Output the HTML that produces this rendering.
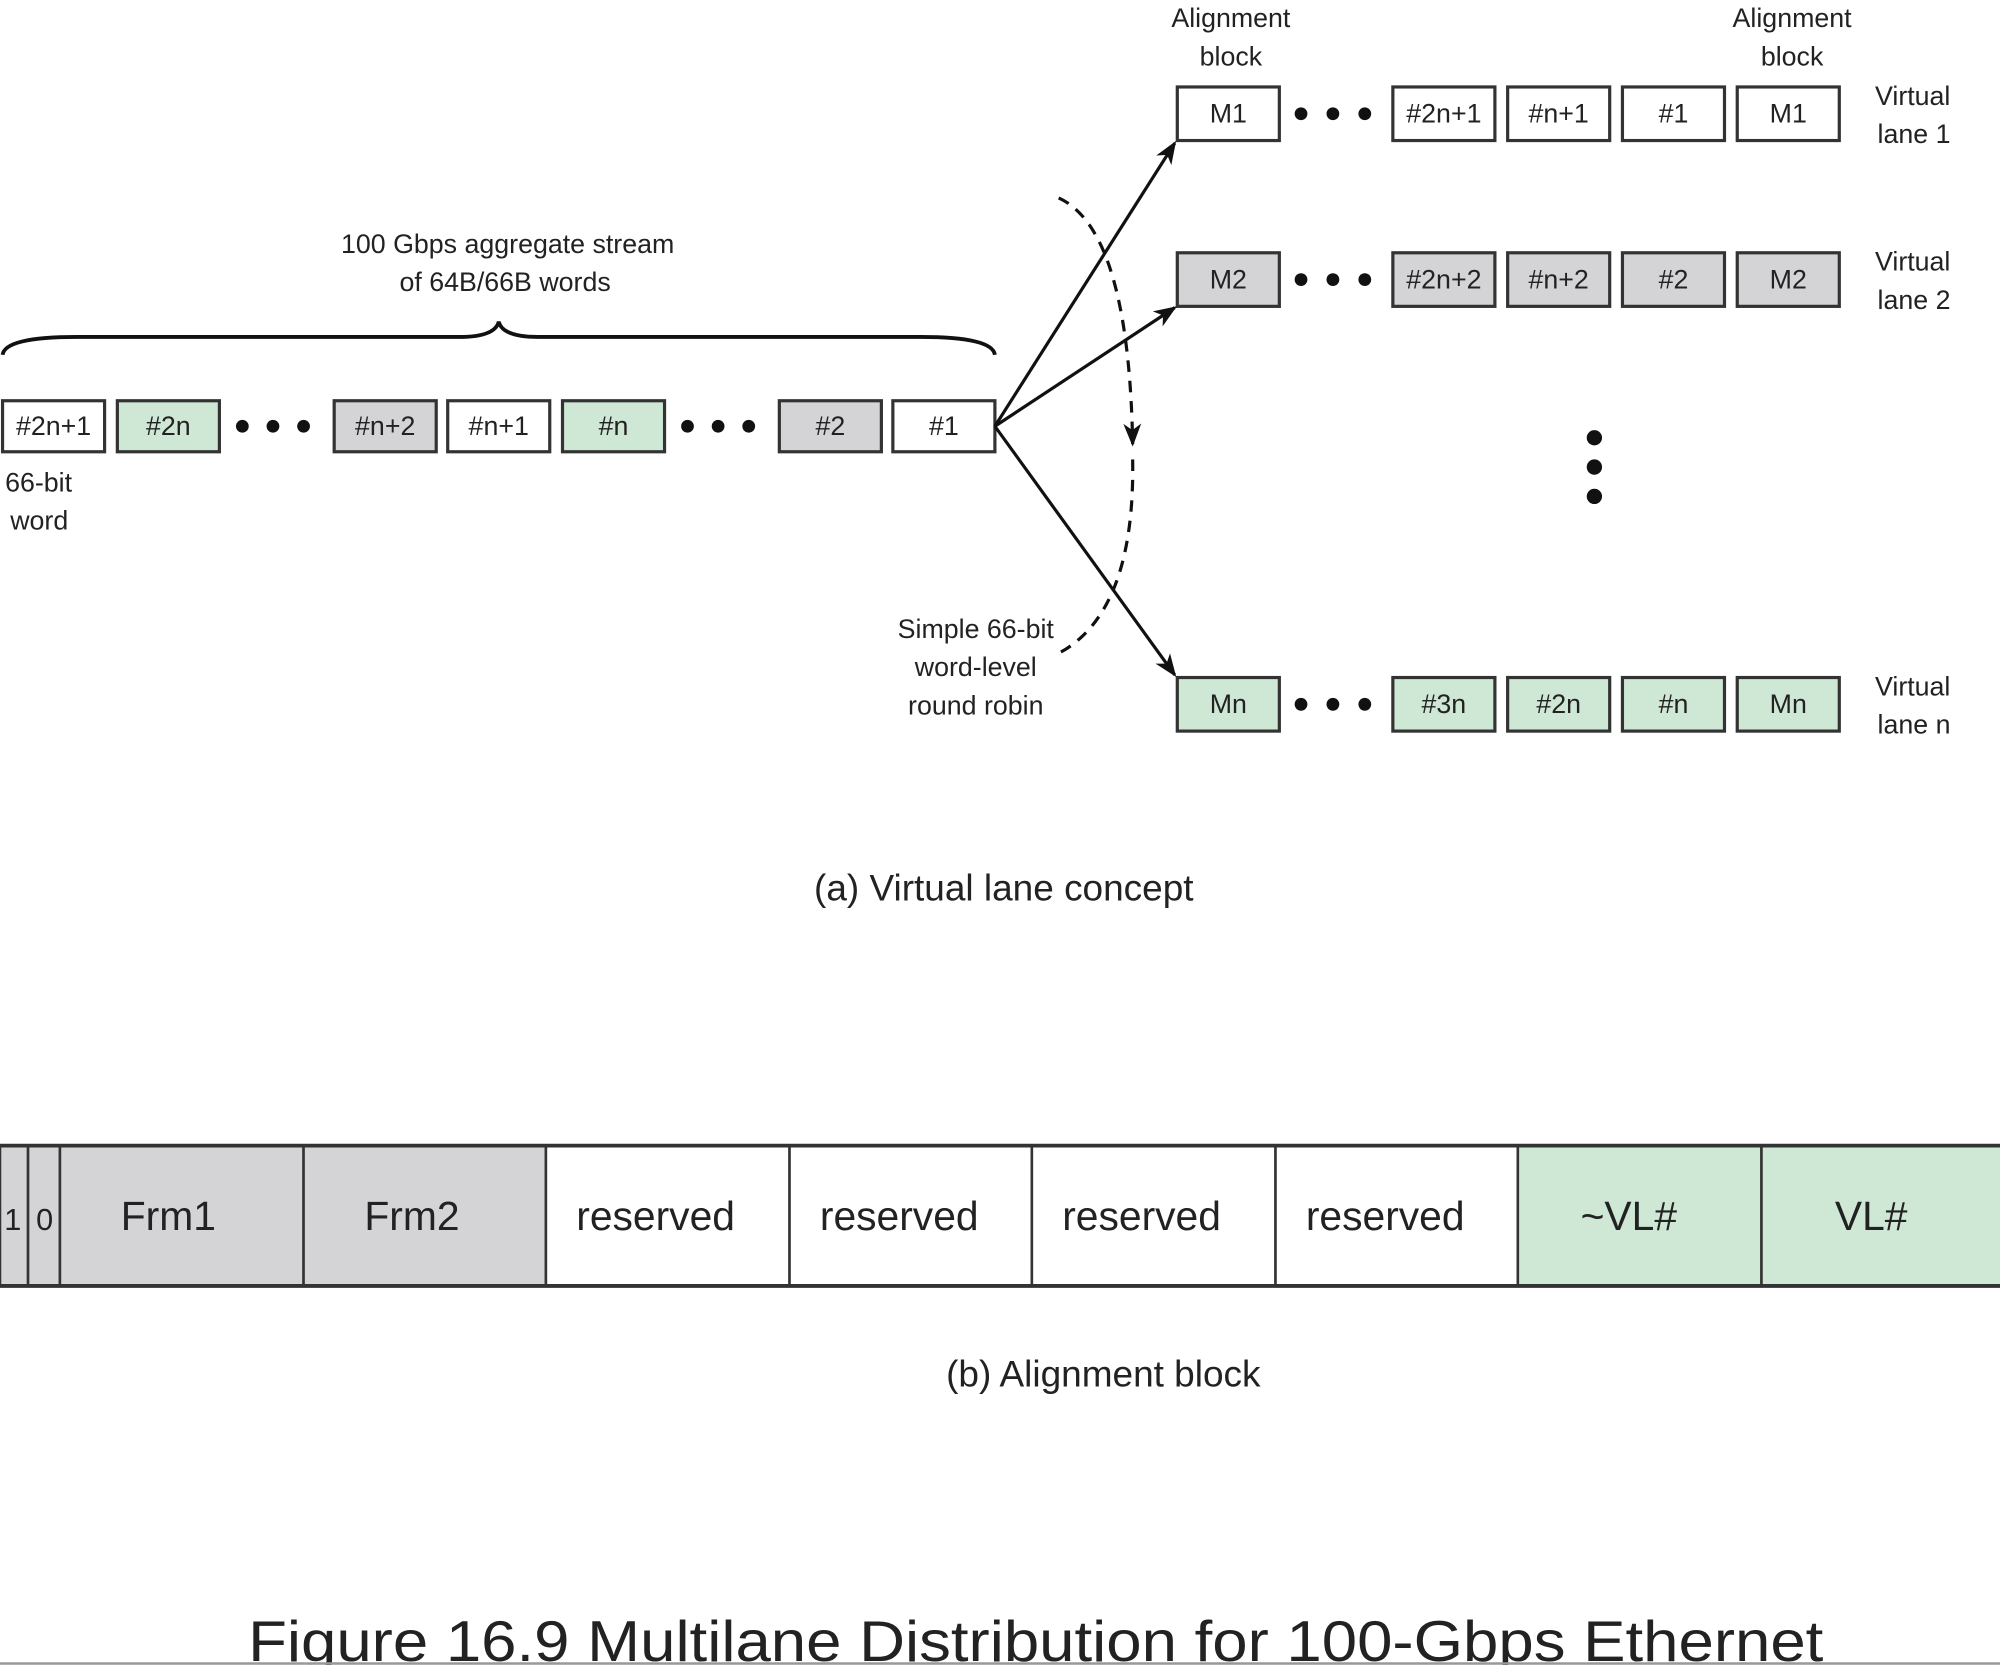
<!DOCTYPE html>
<html><head><meta charset="utf-8"><style>html,body{margin:0;padding:0;background:#fff}svg{display:block}</style></head><body>
<svg width="2000" height="1665" viewBox="0 0 1568 1305" xmlns="http://www.w3.org/2000/svg" font-family="Liberation Sans, sans-serif" fill="#222">
<defs><marker id="ah" markerWidth="10" markerHeight="10" refX="9" refY="5" orient="auto" markerUnits="userSpaceOnUse" viewBox="0 0 10 10"><path d="M0,0 L10,5 L0,10 L3,5 z" fill="#111"/></marker>
<marker id="ah2" markerWidth="18" markerHeight="18" refX="16" refY="9" orient="auto" markerUnits="userSpaceOnUse" viewBox="0 0 18 18"><path d="M0,2 L18,9 L0,16 L5,9 z" fill="#111"/></marker></defs>
<g stroke="#333" stroke-width="2.5">
<rect x="2" y="314" width="80" height="40" fill="#fff"/>
<rect x="92" y="314" width="80" height="40" fill="#cfe8d6"/>
<rect x="262" y="314" width="80" height="40" fill="#d4d4d6"/>
<rect x="351" y="314" width="80" height="40" fill="#fff"/>
<rect x="441" y="314" width="80" height="40" fill="#cfe8d6"/>
<rect x="611" y="314" width="80" height="40" fill="#d4d4d6"/>
<rect x="700" y="314" width="80" height="40" fill="#fff"/>
</g>
<g fill="#111"><circle cx="190" cy="334" r="5"/><circle cx="214" cy="334" r="5"/><circle cx="238" cy="334" r="5"/>
<circle cx="539" cy="334" r="5"/><circle cx="563" cy="334" r="5"/><circle cx="587" cy="334" r="5"/>
<circle cx="1020" cy="89" r="5"/><circle cx="1045" cy="89" r="5"/><circle cx="1070" cy="89" r="5"/>
<circle cx="1020" cy="219" r="5"/><circle cx="1045" cy="219" r="5"/><circle cx="1070" cy="219" r="5"/>
<circle cx="1020" cy="552" r="5"/><circle cx="1045" cy="552" r="5"/><circle cx="1070" cy="552" r="5"/>
<circle cx="1250" cy="343" r="6"/><circle cx="1250" cy="366" r="6"/><circle cx="1250" cy="389" r="6"/></g>
<g font-size="21" text-anchor="middle">
<text x="42" y="341">#2n+1</text><text x="132" y="341">#2n</text><text x="302" y="341">#n+2</text><text x="391" y="341">#n+1</text><text x="481" y="341">#n</text><text x="651" y="341">#2</text><text x="740" y="341">#1</text>
</g>
<g stroke="#333" stroke-width="2.5">
<rect x="923" y="68" width="80" height="42" fill="#fff"/><rect x="1092" y="68" width="80" height="42" fill="#fff"/><rect x="1182" y="68" width="80" height="42" fill="#fff"/><rect x="1272" y="68" width="80" height="42" fill="#fff"/><rect x="1362" y="68" width="80" height="42" fill="#fff"/>
<rect x="923" y="198" width="80" height="42" fill="#d4d4d6"/><rect x="1092" y="198" width="80" height="42" fill="#d4d4d6"/><rect x="1182" y="198" width="80" height="42" fill="#d4d4d6"/><rect x="1272" y="198" width="80" height="42" fill="#d4d4d6"/><rect x="1362" y="198" width="80" height="42" fill="#d4d4d6"/>
<rect x="923" y="531" width="80" height="42" fill="#cfe8d6"/><rect x="1092" y="531" width="80" height="42" fill="#cfe8d6"/><rect x="1182" y="531" width="80" height="42" fill="#cfe8d6"/><rect x="1272" y="531" width="80" height="42" fill="#cfe8d6"/><rect x="1362" y="531" width="80" height="42" fill="#cfe8d6"/>
</g>
<g font-size="21" text-anchor="middle">
<text x="963" y="96">M1</text><text x="1132" y="96">#2n+1</text><text x="1222" y="96">#n+1</text><text x="1312" y="96">#1</text><text x="1402" y="96">M1</text>
<text x="963" y="226">M2</text><text x="1132" y="226">#2n+2</text><text x="1222" y="226">#n+2</text><text x="1312" y="226">#2</text><text x="1402" y="226">M2</text>
<text x="963" y="559">Mn</text><text x="1132" y="559">#3n</text><text x="1222" y="559">#2n</text><text x="1312" y="559">#n</text><text x="1402" y="559">Mn</text>
<text x="965" y="21">Alignment</text><text x="965" y="51">block</text>
<text x="1405" y="21">Alignment</text><text x="1405" y="51">block</text>
<text x="398" y="198">100 Gbps aggregate stream</text><text x="396" y="228">of 64B/66B words</text>
<text x="765" y="500">Simple 66-bit</text><text x="765" y="530">word-level</text><text x="765" y="560">round robin</text>
</g>
<g font-size="21">
<text x="4" y="385">66-bit</text><text x="8" y="415">word</text>
<text x="1470" y="82">Virtual</text><text x="1472" y="112">lane 1</text>
<text x="1470" y="212">Virtual</text><text x="1472" y="242">lane 2</text>
<text x="1470" y="545">Virtual</text><text x="1472" y="575">lane n</text>
</g>
<path d="M2,278 Q4,264 60,264 L360,264 Q388,264 391,252 Q394,264 422,264 L722,264 Q778,264 780,278" fill="none" stroke="#111" stroke-width="3"/>
<g stroke="#111" stroke-width="2.5" fill="none">
<line x1="780" y1="334" x2="921" y2="112" marker-end="url(#ah2)"/>
<line x1="780" y1="334" x2="921" y2="241" marker-end="url(#ah2)"/>
<line x1="780" y1="334" x2="921" y2="529" marker-end="url(#ah2)"/>
<path d="M830,155 Q885,180 888,348" stroke-dasharray="9,7" marker-end="url(#ah2)"/>
<path d="M888,360 Q890,480 830,512" stroke-dasharray="9,7"/>
</g>
<text x="787" y="706" font-size="29" text-anchor="middle">(a) Virtual lane concept</text>
<g stroke="#333" stroke-width="2">
<rect x="0" y="898" width="22" height="110" fill="#d4d4d6"/><rect x="22" y="898" width="25" height="110" fill="#d4d4d6"/>
<rect x="47" y="898" width="191" height="110" fill="#d4d4d6"/><rect x="238" y="898" width="190" height="110" fill="#d4d4d6"/>
<rect x="428" y="898" width="191" height="110" fill="#fff"/><rect x="619" y="898" width="190" height="110" fill="#fff"/><rect x="809" y="898" width="191" height="110" fill="#fff"/><rect x="1000" y="898" width="190" height="110" fill="#fff"/>
<rect x="1190" y="898" width="191" height="110" fill="#cfe8d6"/><rect x="1381" y="898" width="190" height="110" fill="#cfe8d6"/>
</g>
<line x1="0" y1="898" x2="1568" y2="898" stroke="#333" stroke-width="3"/><line x1="0" y1="1008" x2="1568" y2="1008" stroke="#333" stroke-width="3"/>
<g font-size="32" text-anchor="middle">
<text x="10" y="964" font-size="24">1</text><text x="35" y="964" font-size="24">0</text>
<text x="132" y="964">Frm1</text><text x="323" y="964">Frm2</text>
<text x="514" y="964">reserved</text><text x="705" y="964">reserved</text><text x="895" y="964">reserved</text><text x="1086" y="964">reserved</text>
<text x="1277" y="964">~VL#</text><text x="1467" y="964">VL#</text>
</g>
<text x="865" y="1087" font-size="29" text-anchor="middle">(b) Alignment block</text>
<text x="812" y="1302" font-size="45" text-anchor="middle" textLength="1235" lengthAdjust="spacingAndGlyphs">Figure 16.9 Multilane Distribution for 100-Gbps Ethernet</text>
<line x1="0" y1="1304" x2="1568" y2="1304" stroke="#999" stroke-width="2"/>
</svg>
</body></html>
